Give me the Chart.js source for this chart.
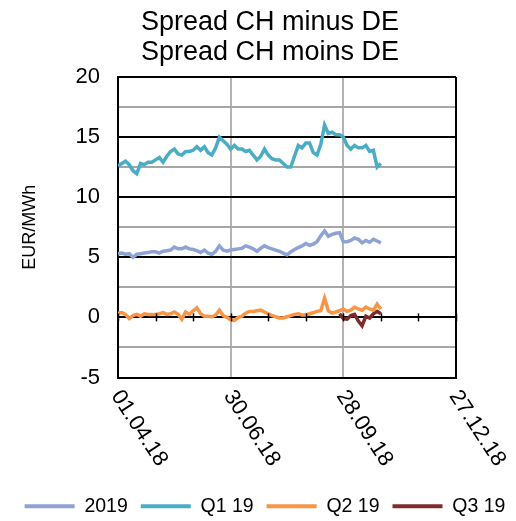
<!DOCTYPE html>
<html>
<head>
<meta charset="utf-8">
<script src="https://cdn.jsdelivr.net/npm/chart.js@4.4.1/dist/chart.umd.min.js"></script>
<style>
  html, body { margin: 0; padding: 0; background: #fff; }
  #wrap { width: 516px; height: 521px; }
</style>
</head>
<body>
<div id="wrap"><canvas id="spread_chart"></canvas></div>
<script>
// days counted from 01.04.18
const days = [0,3,6,9,12,15,18,21,24,27,30,33,36,39,42,45,48,51,54,57,60,63,66,69,72,75,78,81,84,87,90,93,96,99,102,105,108,111,114,117,120,123,126,129,132,135,138,141,144,147,150,153,156,159,162,165,168,171,174,177,180,183,186,189,192,195,198,201,204,207,210];
const xTicks = [0, 90, 180, 270];
const yTicks = [-5, -2.5, 0, 2.5, 5, 7.5, 10, 12.5, 15, 17.5, 20];

const s2019 = [5.3,5.35,5.25,5.3,5.0,5.25,5.3,5.35,5.4,5.45,5.45,5.35,5.5,5.55,5.6,5.85,5.7,5.7,5.85,5.7,5.65,5.55,5.4,5.6,5.35,5.25,5.5,5.95,5.6,5.5,5.6,5.65,5.7,5.75,5.95,5.85,5.7,5.5,5.75,5.95,5.8,5.7,5.6,5.5,5.35,5.2,5.45,5.65,5.8,5.95,6.15,6.0,6.1,6.3,6.8,7.2,6.75,6.9,7.0,7.05,6.3,6.3,6.4,6.6,6.5,6.2,6.4,6.25,6.5,6.35,6.2];
const q119 = [12.6,12.8,13.0,12.7,12.2,11.95,12.8,12.7,12.9,12.9,13.1,13.3,12.9,13.4,13.8,14.0,13.6,13.5,13.8,13.8,13.9,14.2,13.9,14.2,13.7,13.5,14.1,15.0,14.7,14.4,14.0,14.3,14.0,14.0,13.8,13.9,13.5,13.1,13.4,14.0,13.5,13.2,13.1,13.1,12.8,12.5,12.5,13.4,14.3,14.1,14.5,14.5,13.7,13.5,14.4,16.0,15.3,15.4,15.2,15.2,15.0,14.3,14.0,14.3,14.1,14.1,14.3,13.8,13.9,12.5,12.8];
const q219 = [0.35,0.4,0.25,-0.1,0.15,0.25,0.1,0.3,0.25,0.25,0.25,0.3,0.4,0.25,0.3,0.45,0.25,-0.15,0.45,0.25,0.55,0.8,0.3,0.1,0.1,0.05,0.2,0.6,0.15,0.0,-0.2,-0.25,0.0,0.1,0.35,0.5,0.5,0.55,0.6,0.45,0.3,0.15,0.05,-0.05,-0.05,0.05,0.15,0.25,0.3,0.2,0.2,0.3,0.4,0.5,0.55,1.6,0.55,0.35,0.45,0.55,0.7,0.5,0.6,0.85,0.7,0.6,0.85,0.7,0.6,1.1,0.7];
const q319 = [null,null,null,null,null,null,null,null,null,null,null,null,null,null,null,null,null,null,null,null,null,null,null,null,null,null,null,null,null,null,null,null,null,null,null,null,null,null,null,null,null,null,null,null,null,null,null,null,null,null,null,null,null,null,null,null,null,null,null,0.3,-0.1,-0.15,0.15,0.25,-0.3,-0.7,0.1,-0.05,0.3,0.5,0.3];

const seriesNames = ['2019', 'Q1 19', 'Q2 19', 'Q3 19'];
const seriesColors = ['#8FA2D4', '#4BACC6', '#F79646', '#7F2B2B'];
const seriesValues = [s2019, q119, q219, q319];

const FONT = '"Liberation Sans", Arial, sans-serif';

function dayLabel(d) {
    const dt = new Date(Date.UTC(2018, 3, 1) + d * 86400000);
    const dd = String(dt.getUTCDate()).padStart(2, '0');
    const mm = String(dt.getUTCMonth() + 1).padStart(2, '0');
    const yy = String(dt.getUTCFullYear()).slice(2);
    return dd + '.' + mm + '.' + yy;
}

// title and legend sit a bit right of the canvas centre, like in the original
const boxShift = {
    id: 'boxShift',
    afterLayout(chart) {
        if (chart.titleBlock) chart.titleBlock.left = 24;
        if (chart.legend) {
            chart.legend.left += 7;
            chart.legend.right += 7;
        }
    }
};

// grey half-step gridlines (2.5, 7.5, ...)
const minorGrid = {
    id: 'minorGrid',
    beforeDatasetsDraw(chart) {
        const { ctx, chartArea, scales: { y } } = chart;
        ctx.save();
        ctx.strokeStyle = '#a6a6a6';
        ctx.lineWidth = 2;
        yTicks.filter(v => v % 5 !== 0).forEach(v => {
            const py = Math.round(y.getPixelForValue(v));
            ctx.beginPath();
            ctx.moveTo(chartArea.left + 1, py);
            ctx.lineTo(chartArea.right - 1, py);
            ctx.stroke();
        });
        ctx.restore();
    }
};

// rotated date labels (down-right) + small ticks on the zero line
const axisDecor = {
    id: 'axisDecor',
    afterDatasetsDraw(chart) {
        const { ctx, chartArea, scales: { x, y } } = chart;
        const y0 = y.getPixelForValue(0);
        ctx.save();
        ctx.strokeStyle = '#000';
        ctx.lineWidth = 1.5;
        for (let d = 0; d <= 270; d += 30) {
            const px = Math.round(x.getPixelForValue(d)) + 0.5;
            ctx.beginPath();
            ctx.moveTo(px, y0 - 4);
            ctx.lineTo(px, y0 + 4);
            ctx.stroke();
        }
        ctx.fillStyle = '#000';
        ctx.font = '22px ' + FONT;
        ctx.textAlign = 'left';
        ctx.textBaseline = 'top';
        xTicks.forEach(v => {
            const px = x.getPixelForValue(v);
            ctx.save();
            ctx.translate(px + 7, chartArea.bottom + 9);
            ctx.rotate(57 * Math.PI / 180);
            ctx.fillText(dayLabel(v), 0, 0);
            ctx.restore();
        });
        ctx.restore();
    }
};

const ctx = document.getElementById('spread_chart').getContext('2d');
const spread_chart = new Chart(ctx, {
    type: 'line',
    data: {
        datasets: seriesNames.map((name, i) => ({
            label: name,
            data: days.map((d, j) => ({ x: d, y: seriesValues[i][j] })),
            borderColor: seriesColors[i],
            backgroundColor: seriesColors[i],
            borderWidth: 3.5,
            pointRadius: 0,
            tension: 0,
            fill: false
        }))
    },
    options: {
        responsive: true,
        maintainAspectRatio: false,
        animation: false,
        layout: { padding: { left: 0, right: 0, top: 0, bottom: -5 } },
        plugins: {
            title: {
                display: true,
                text: ['Spread CH minus DE', 'Spread CH moins DE'],
                color: '#000',
                font: { family: FONT, size: 27, weight: 'normal', lineHeight: 1.11 },
                padding: { top: 8, bottom: 9 }
            },
            legend: {
                position: 'bottom',
                labels: {
                    color: '#000',
                    font: { family: FONT, size: 19.5 },
                    boxWidth: 50, boxHeight: 4,
                    padding: 13,
                    generateLabels: chart => Chart.defaults.plugins.legend.labels.generateLabels(chart)
                        .map(l => Object.assign(l, { lineWidth: 0 }))
                }
            },
            tooltip: { enabled: false }
        },
        scales: {
            x: {
                type: 'linear',
                min: 0, max: 270,
                ticks: { stepSize: 90, display: false },
                grid: {
                    color: c => (c.tick && (c.tick.value === 0 || c.tick.value === 270)) ? '#000' : '#b3b3b3',
                    lineWidth: 2,
                    drawTicks: false
                },
                border: { display: true, color: '#000', width: 2 },
                afterFit: s => { s.height = 106; }
            },
            y: {
                min: -5, max: 20,
                ticks: {
                    stepSize: 5,
                    color: '#000',
                    padding: 18,
                    font: { family: FONT, size: 22 }
                },
                grid: {
                    color: '#000',
                    lineWidth: 2,
                    drawTicks: false
                },
                border: { display: true, color: '#000', width: 2 },
                title: {
                    display: true,
                    text: 'EUR/MWh',
                    color: '#000',
                    font: { family: FONT, size: 18 },
                    padding: { top: 19, bottom: 0 }
                },
                afterFit: s => { s.width = 118; }
            },
            // empty right margin
            yRight: {
                position: 'right',
                min: -5, max: 20,
                ticks: { display: false },
                grid: { display: false },
                border: { display: false },
                afterFit: s => { s.width = 60; }
            }
        }
    },
    plugins: [minorGrid, axisDecor, boxShift]
});
</script>
</body>
</html>
